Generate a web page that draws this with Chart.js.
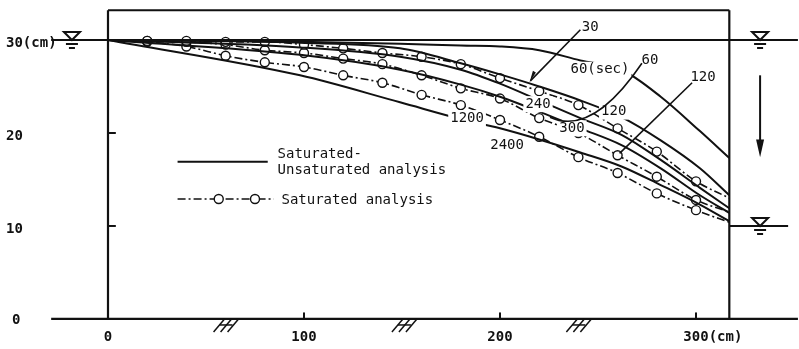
<!DOCTYPE html>
<html>
<head>
<meta charset="utf-8">
<script src="https://cdn.jsdelivr.net/npm/chart.js@4.4.1/dist/chart.umd.min.js"></script>
<style>
  html, body { margin: 0; padding: 0; background: #fff; }
  #wrap { width: 799px; height: 349px; }
</style>
</head>
<body>
<div id="wrap"><canvas id="seepage" width="799" height="349"></canvas></div>
<script>
// distance from upstream face (cm) and water level (cm)
const nodeX = [0, 20, 40, 60, 80, 100, 120, 140, 160, 180, 200, 220, 240, 260, 280, 300, 317];
const curveX = [0, 98, 149, 180, 200, 220, 241, 262, 282, 302, 317];

// saturated analysis (dash-dot with circles)
const satA = [30.0, 29.9, 29.9, 29.8, 29.8, 29.5, 29.1, 28.6, 28.2, 27.4, 25.9, 24.5, 23.0, 20.5, 18.0, 14.8, 13.0];
const satB = [30.0, 29.9, 29.8, 29.5, 28.9, 28.6, 28.0, 27.4, 26.2, 24.8, 23.7, 21.6, 20.0, 17.6, 15.3, 12.8, 11.5];
const satC = [30.0, 29.8, 29.3, 28.3, 27.6, 27.1, 26.2, 25.4, 24.1, 23.0, 21.4, 19.6, 17.4, 15.7, 13.5, 11.7, 10.4];

// saturated-unsaturated analysis (solid)
const suT60   = [30.0, 29.8, 29.6, 29.4, 29.3, 28.9, 27.8, 26.8, 23.9, 20.2, 17.3];
const suT120  = [30.0, 29.7, 29.1, 27.5, 26.3, 25.0, 23.5, 21.7, 19.2, 16.2, 13.3];
const suT240  = [30.0, 29.2, 28.2, 26.8, 25.3, 23.5, 21.6, 19.8, 17.1, 14.1, 11.9];
const suT300  = [30.0, 28.4, 26.8, 25.2, 23.9, 22.3, 20.5, 18.7, 16.2, 13.3, 11.4];
const suT1200 = [30.0, 26.2, 23.3, 21.5, 20.5, 19.3, 17.9, 16.4, 14.4, 12.3, 10.5];

const xTicks = [0, 100, 200, 300];
const xTickText = ['0', '100', '200', '300(cm)'];
const yTicks = [0, 10, 20, 30];
const yTickText = ['0', '10', '20', '30(cm)'];

const INK = '#111';
const MONO = '"DejaVu Sans Mono", "Liberation Mono", monospace';

function pts(xs, ys) {
  return ys.map((y, i) => ({ x: xs[i], y: y }));
}

function solid(ys) {
  return {
    data: pts(curveX, ys),
    borderColor: INK,
    borderWidth: 2,
    pointRadius: 0,
    cubicInterpolationMode: 'monotone',
    fill: false
  };
}

function dashDot(ys) {
  return {
    data: pts(nodeX, ys),
    borderColor: INK,
    borderWidth: 1.6,
    borderDash: [8, 3, 2, 3],
    pointRadius: ys.map((v, i) => (i === 0 || i === ys.length - 1) ? 0 : 4.5),
    pointBackgroundColor: '#fff',
    pointBorderColor: INK,
    pointBorderWidth: 1.4,
    cubicInterpolationMode: 'monotone',
    fill: false
  };
}

// frame, water levels, legend and curve labels
const sketch = {
  id: 'sketch',
  afterDatasetsDraw(chart) {
    const ctx = chart.ctx;
    const sx = chart.scales.x, sy = chart.scales.y;
    const X = v => sx.getPixelForValue(v);
    const Y = v => sy.getPixelForValue(v);
    ctx.save();
    ctx.strokeStyle = INK;
    ctx.fillStyle = INK;
    ctx.lineCap = 'butt';

    function line(x1, y1, x2, y2, w) {
      ctx.lineWidth = w || 2;
      ctx.beginPath();
      ctx.moveTo(X(x1), Y(y1));
      ctx.lineTo(X(x2), Y(y2));
      ctx.stroke();
    }

    // tank
    line(0, 0, 0, 33.2, 2.2);
    line(317, 0, 317, 33.2, 2.2);
    line(0, 33.2, 317, 33.2, 2);
    // ground
    line(-29, 0, 352, 0, 2.2);
    // initial water table
    line(-29, 30, 352, 30, 2);
    // downstream water level
    line(317, 10, 347, 10, 2);

    // axis ticks
    [10, 20].forEach(v => line(0, v, 4, v, 2));
    [100, 200, 300].forEach(v => line(v, 0, v, 0.7, 2));

    // ground hatching
    [61, 152, 241].forEach(c => {
      const cx = X(c), cy = Y(0);
      ctx.lineWidth = 1.5;
      for (let k = -1; k <= 1; k++) {
        ctx.beginPath();
        ctx.moveTo(cx + k * 7 - 7, cy + 13);
        ctx.lineTo(cx + k * 7 + 4, cy);
        ctx.stroke();
      }
      ctx.beginPath();
      ctx.moveTo(cx - 8, cy + 6);
      ctx.lineTo(cx + 5, cy + 6);
      ctx.stroke();
    });

    // water level markers
    function level(xv, yv) {
      const cx = X(xv), cy = Y(yv);
      ctx.lineWidth = 2;
      ctx.beginPath();
      ctx.moveTo(cx - 8, cy - 8);
      ctx.lineTo(cx + 8, cy - 8);
      ctx.lineTo(cx, cy);
      ctx.closePath();
      ctx.stroke();
      ctx.beginPath();
      ctx.moveTo(cx - 6, cy + 4); ctx.lineTo(cx + 6, cy + 4);
      ctx.moveTo(cx - 3, cy + 8); ctx.lineTo(cx + 3, cy + 8);
      ctx.stroke();
    }
    level(-18.4, 30);
    level(332.7, 30);
    level(332.7, 10);

    // drawdown arrow
    const ax = X(332.7);
    ctx.lineWidth = 2;
    ctx.beginPath();
    ctx.moveTo(ax, Y(26.2));
    ctx.lineTo(ax, Y(18.5));
    ctx.stroke();
    ctx.beginPath();
    ctx.moveTo(ax - 4, Y(19.3));
    ctx.lineTo(ax + 4, Y(19.3));
    ctx.lineTo(ax, Y(17.4));
    ctx.closePath();
    ctx.fill();

    // tick labels
    ctx.font = 'bold 14px ' + MONO;
    ctx.textBaseline = 'middle';
    ctx.textAlign = 'left';
    yTicks.forEach((v, i) => {
      ctx.fillText(yTickText[i], i === 0 ? 12 : 6, Y(v) + (i === 0 ? 1 : 3));
    });
    xTicks.forEach((v, i) => {
      const w = ctx.measureText(xTickText[i].replace('(cm)', '')).width;
      ctx.fillText(xTickText[i], X(v) - w / 2, Y(-2.0));
    });

    // legend
    const lx1 = X(35.5), lx2 = X(81.5);
    ctx.lineWidth = 2;
    ctx.setLineDash([]);
    ctx.beginPath();
    ctx.moveTo(lx1, Y(16.9)); ctx.lineTo(lx2, Y(16.9));
    ctx.stroke();
    ctx.lineWidth = 1.6;
    ctx.setLineDash([8, 3, 2, 3]);
    ctx.beginPath();
    ctx.moveTo(lx1, Y(12.9)); ctx.lineTo(lx2 + 6, Y(12.9));
    ctx.stroke();
    ctx.setLineDash([]);
    [56.5, 75].forEach(v => {
      ctx.beginPath();
      ctx.arc(X(v), Y(12.9), 4.5, 0, Math.PI * 2);
      ctx.fillStyle = '#fff';
      ctx.fill();
      ctx.lineWidth = 1.4;
      ctx.stroke();
    });
    ctx.fillStyle = INK;
    ctx.font = '14px ' + MONO;
    ctx.fillText('Saturated-', X(86.5), Y(17.7));
    ctx.fillText('Unsaturated analysis', X(86.5), Y(16.0));
    ctx.fillText('Saturated analysis', X(88.5), Y(12.8));

    // curve labels
    function tag(text, xv, yv, knock) {
      const w = ctx.measureText(text).width;
      const cx = X(xv), cy = Y(yv);
      if (knock) {
        ctx.fillStyle = '#fff';
        ctx.fillRect(cx - w / 2 - 2, cy - 8, w + 4, 16);
        ctx.fillStyle = INK;
      }
      ctx.fillText(text, cx - w / 2, cy);
    }
    ctx.font = '14px ' + MONO;
    tag('30', 246, 31.4, false);
    tag('60(sec)', 251, 26.8, true);
    tag('60', 276.5, 27.8, false);
    tag('120', 303.6, 26.0, false);
    tag('240', 219.4, 23.1, true);
    tag('120', 258, 22.3, true);
    tag('300', 236.7, 20.5, true);
    tag('1200', 183.2, 21.6, true);
    tag('2400', 203.6, 18.7, true);

    // leaders
    ctx.lineWidth = 1.6;
    line(241, 31.1, 215.5, 25.6, 1.6);
    ctx.beginPath();
    ctx.moveTo(X(215), Y(25.4));
    ctx.lineTo(X(218.3), Y(26.5));
    ctx.lineTo(X(216.8), Y(26.7));
    ctx.closePath();
    ctx.fill();
    line(298, 25.4, 261, 17.8, 1.6);
    ctx.beginPath();
    ctx.moveTo(X(272.4), Y(27.5));
    ctx.quadraticCurveTo(X(247), Y(19.6), X(225.5), Y(21.7));
    ctx.stroke();

    ctx.restore();
  }
};

new Chart(document.getElementById('seepage'), {
  type: 'line',
  data: {
    datasets: [
      solid(suT60), solid(suT120), solid(suT240), solid(suT300), solid(suT1200),
      dashDot(satA), dashDot(satB), dashDot(satC)
    ]
  },
  options: {
    responsive: false,
    animation: false,
    layout: { padding: 0 },
    plugins: { legend: { display: false }, tooltip: { enabled: false } },
    scales: {
      x: { type: 'linear', display: false, min: -55.1, max: 352.55 },
      y: { type: 'linear', display: false, min: -3.23, max: 34.3 }
    }
  },
  plugins: [sketch]
});
</script>
</body>
</html>
